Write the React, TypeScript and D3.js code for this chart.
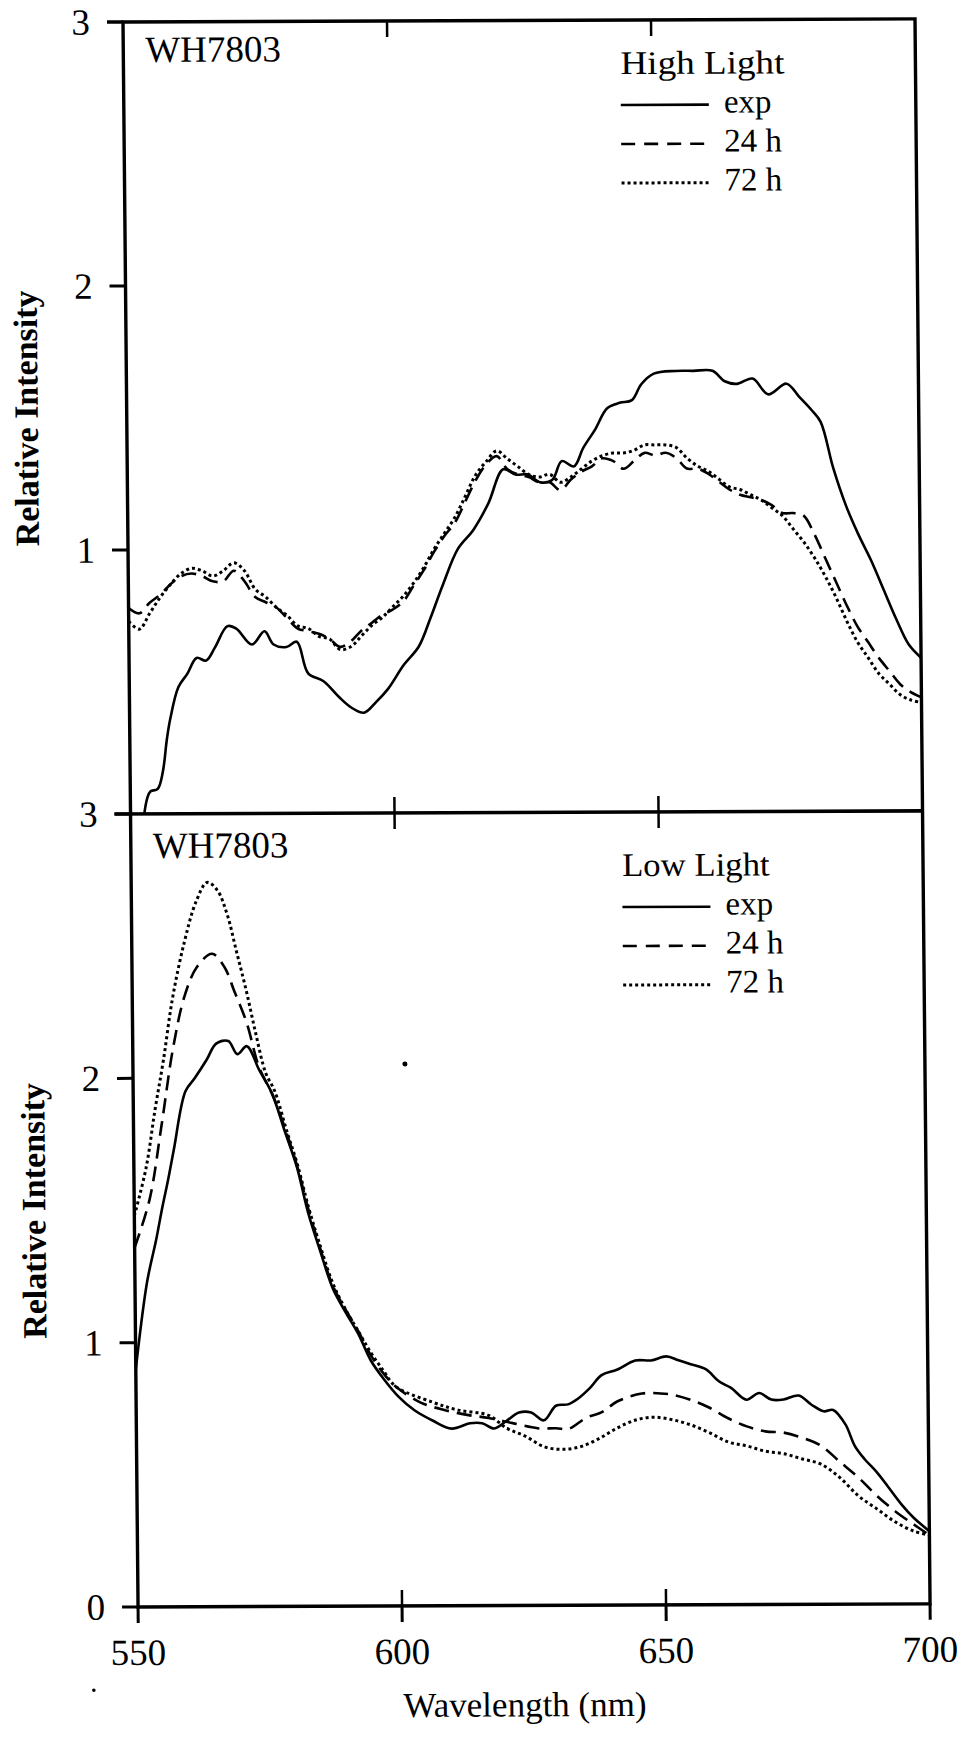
import React from "react";
import * as d3 from "d3";

// ---- Axis ticks ----
const WAVELENGTH_TICKS = [550, 600, 650, 700];
const TOP_Y_TICKS = [1, 2, 3];
const BOTTOM_Y_TICKS = [0, 1, 2, 3];

// ---- High Light panel ----
const highExpNm = [552.6, 553.2, 553.8, 555.2, 556.2, 557.0, 557.7, 559.3, 561, 562.8, 564.6, 566.3, 568.7, 570.4, 573.3, 575.7, 577.4, 579.8, 581.8, 583.9, 586.8, 589.7, 592, 594.4, 596.7, 599, 602, 604.9, 607.2, 609.5, 612.5, 615.4, 618.3, 621.2, 623.5, 625.9, 628.2, 630.5, 632.3, 634.6, 636.4, 638.7, 641, 643.4, 645.7, 647.5, 649.9, 654, 657.4, 661, 663.3, 665.6, 668.6, 671.5, 675, 677.4, 679.7, 681.4, 683.7, 686, 688.3, 690.7, 693, 695.3, 697.7, 700];
const highExpVal = [0, 0.06, 0.085, 0.095, 0.16, 0.28, 0.36, 0.48, 0.53, 0.59, 0.58, 0.63, 0.71, 0.70, 0.64, 0.69, 0.64, 0.63, 0.65, 0.53, 0.50, 0.44, 0.40, 0.38, 0.42, 0.47, 0.56, 0.63, 0.74, 0.86, 1.00, 1.07, 1.17, 1.30, 1.28, 1.28, 1.25, 1.26, 1.33, 1.31, 1.38, 1.45, 1.53, 1.55, 1.56, 1.62, 1.66, 1.67, 1.67, 1.67, 1.63, 1.62, 1.64, 1.58, 1.62, 1.57, 1.52, 1.475, 1.30, 1.16, 1.05, 0.95, 0.84, 0.73, 0.63, 0.58];

// 24 h and 72 h share a 2 nm grid from 550 to 700
const highGridNm = d3.range(550, 701, 2);
const high24Val = [0.78, 0.76, 0.80, 0.83, 0.87, 0.90, 0.91, 0.90, 0.88, 0.88, 0.92, 0.88, 0.82, 0.80, 0.78, 0.74, 0.70, 0.69, 0.68, 0.66, 0.63, 0.65, 0.69, 0.72, 0.75, 0.77, 0.80, 0.86, 0.92, 0.99, 1.05, 1.10, 1.18, 1.26, 1.32, 1.35, 1.30, 1.28, 1.27, 1.25, 1.25, 1.22, 1.26, 1.29, 1.31, 1.34, 1.33, 1.30, 1.33, 1.36, 1.35, 1.36, 1.34, 1.30, 1.30, 1.28, 1.25, 1.22, 1.20, 1.19, 1.18, 1.16, 1.13, 1.13, 1.12, 1.05, 0.96, 0.87, 0.78, 0.70, 0.64, 0.58, 0.53, 0.48, 0.45, 0.43];
const high72Val = [0.73, 0.70, 0.76, 0.82, 0.87, 0.91, 0.93, 0.92, 0.90, 0.92, 0.95, 0.92, 0.85, 0.82, 0.78, 0.75, 0.71, 0.70, 0.67, 0.66, 0.62, 0.63, 0.67, 0.71, 0.74, 0.78, 0.82, 0.87, 0.93, 1.00, 1.06, 1.12, 1.20, 1.28, 1.33, 1.37, 1.34, 1.31, 1.28, 1.27, 1.28, 1.25, 1.27, 1.30, 1.33, 1.35, 1.36, 1.36, 1.37, 1.39, 1.39, 1.39, 1.38, 1.34, 1.31, 1.29, 1.26, 1.23, 1.22, 1.20, 1.18, 1.15, 1.12, 1.07, 1.02, 0.96, 0.89, 0.81, 0.72, 0.64, 0.58, 0.52, 0.48, 0.44, 0.42, 0.41];

// ---- Low Light panel ----
const lowExpNm = [550, 552.3, 554.1, 555.3, 556.4, 557.6, 559.9, 561.7, 564, 565.8, 568.1, 569.8, 571.6, 573.9, 576.3, 578.6, 580.9, 582.9, 585.2, 587.5, 589.9, 592.2, 594.5, 596.9, 599.8, 602.7, 606.2, 609.7, 613.2, 615.5, 617.8, 620.2, 622.5, 624.8, 627.2, 629.5, 631.8, 633.6, 635.9, 638.2, 641.1, 644.6, 647.6, 650.5, 652.8, 655.1, 658, 660.4, 662.7, 665.6, 668, 670.3, 672.6, 675.5, 677.9, 680.2, 682, 684.3, 686, 687.8, 690.1, 692.4, 694.8, 697.1, 700];
const lowExpVal = [0.90, 1.23, 1.39, 1.51, 1.61, 1.73, 1.95, 2.00, 2.07, 2.13, 2.14, 2.09, 2.12, 2.03, 1.94, 1.80, 1.66, 1.49, 1.34, 1.20, 1.11, 1.03, 0.93, 0.86, 0.79, 0.74, 0.70, 0.67, 0.69, 0.69, 0.67, 0.70, 0.73, 0.73, 0.70, 0.755, 0.76, 0.78, 0.82, 0.87, 0.89, 0.925, 0.925, 0.94, 0.925, 0.91, 0.89, 0.845, 0.82, 0.775, 0.80, 0.775, 0.775, 0.79, 0.755, 0.73, 0.735, 0.68, 0.60, 0.55, 0.50, 0.44, 0.376, 0.325, 0.275];

const low24Nm = [550, 552.9, 555.3, 557.6, 559.9, 562.3, 565.2, 567.5, 569.3, 571.6, 573.9, 576.5, 579, 581, 583, 585.2, 587.5, 589.9, 592.2, 594.5, 596.9, 599.2, 603.8, 608.5, 613.2, 616.7, 621.3, 626, 629.5, 631.8, 635.3, 638.2, 641.1, 645.8, 649.3, 651.6, 655.1, 658.6, 662.1, 665.6, 669.1, 672.6, 676.1, 679.6, 683.1, 686.6, 690.1, 693.6, 697.1, 700];
const low24Val = [1.36, 1.54, 1.82, 2.11, 2.31, 2.42, 2.47, 2.42, 2.33, 2.21, 2.04, 1.93, 1.79, 1.66, 1.50, 1.35, 1.21, 1.12, 1.04, 0.95, 0.88, 0.83, 0.77, 0.74, 0.72, 0.71, 0.69, 0.67, 0.67, 0.667, 0.71, 0.73, 0.77, 0.80, 0.80, 0.795, 0.775, 0.745, 0.705, 0.674, 0.655, 0.65, 0.63, 0.60, 0.54, 0.48, 0.41, 0.35, 0.30, 0.26];

const low72Nm = [550, 552.3, 554.1, 555.8, 557.6, 559.9, 562.3, 564.4, 566.3, 568.1, 569.8, 571.6, 573.3, 575.1, 576.8, 579, 581, 583, 585.2, 587.5, 589.9, 592.2, 594.5, 596.9, 599.2, 606.2, 611, 616.7, 620.2, 623.7, 627.2, 630.7, 634.1, 637.6, 641.1, 644.6, 648.1, 651.6, 655.1, 658.6, 662.1, 665.6, 669.1, 672.6, 676.1, 679.6, 683.1, 686.6, 690.1, 693.6, 697.1, 700];
const low72Val = [1.48, 1.66, 1.88, 2.07, 2.30, 2.51, 2.67, 2.74, 2.71, 2.62, 2.48, 2.33, 2.17, 2.02, 1.95, 1.80, 1.67, 1.51, 1.36, 1.22, 1.12, 1.04, 0.96, 0.89, 0.83, 0.77, 0.74, 0.72, 0.67, 0.64, 0.60, 0.59, 0.60, 0.63, 0.67, 0.70, 0.71, 0.70, 0.68, 0.65, 0.615, 0.60, 0.58, 0.57, 0.55, 0.53, 0.48, 0.41, 0.36, 0.31, 0.275, 0.26];

const SERIES_LABELS = ["exp", "24 h", "72 h"];

// ---- Layout ----
const W = 964;
const H = 1746;
const X0 = 123;
const X1 = 915;
const TOP_Y = 22;
const MID_Y = 814;
const BOT_Y = 1607;
const FONT = "'Liberation Serif', 'Times New Roman', Times, serif";
const LEGEND_FONT = 33;
// the printed figure sits slightly askew on the page
const SKEW_X = 0.0095;
const SKEW_Y = -0.004;

const STYLES = [
  { dash: undefined, width: 2.6 },
  { dash: "15 8", width: 2.6 },
  { dash: "3 3", width: 3 },
];

const x = d3.scaleLinear().domain([550, 700]).range([X0, X1]);
const yTop = d3.scaleLinear().domain([0, 3]).range([MID_Y, TOP_Y]);
const yBot = d3.scaleLinear().domain([0, 3]).range([BOT_Y, MID_Y]);

const zip = (a: number[], b: number[]) => a.map((v, i) => [v, b[i]] as [number, number]);

function makeLine(y: d3.ScaleLinear<number, number>) {
  return d3
    .line<[number, number]>()
    .x((d) => x(d[0]))
    .y((d) => y(d[1]))
    .curve(d3.curveCatmullRom.alpha(0.5));
}

type LegendLayout = {
  left: number;
  lineEnd: number;
  textX: number;
  titleY: number;
  rows: number[];
};

type PanelProps = {
  id: string;
  y: d3.ScaleLinear<number, number>;
  series: [number, number][][];
  yTicks: number[];
  title: string;
  tagOffset: number;
  legend: LegendLayout;
};

function Panel({ id, y, series, yTicks, title, tagOffset, legend }: PanelProps) {
  const line = makeLine(y);
  const yMax = y(3);
  const yMin = y(0);
  return (
    <g>
      <defs>
        <clipPath id={id}>
          <rect x={X0} y={yMax} width={X1 - X0} height={yMin - yMax} />
        </clipPath>
      </defs>
      <g clipPath={`url(#${id})`}>
        {series.map((pts, i) => (
          <path
            key={i}
            d={line(pts) ?? ""}
            fill="none"
            stroke="#000"
            strokeWidth={STYLES[i].width}
            strokeDasharray={STYLES[i].dash}
            strokeLinejoin="round"
          />
        ))}
      </g>
      {/* y ticks and labels */}
      {yTicks.map((t) => (
        <g key={t}>
          <line x1={X0 - 16} x2={X0} y1={y(t)} y2={y(t)} stroke="#000" strokeWidth={3} />
          <text x={X0 - 33} y={y(t)} dy="0.34em" textAnchor="end" fontFamily={FONT} fontSize={37}>
            {t}
          </text>
        </g>
      ))}
      {/* inner wavelength ticks along the top and bottom edges */}
      {WAVELENGTH_TICKS.slice(1, 3).map((t) => (
        <g key={t}>
          <line x1={x(t)} x2={x(t)} y1={yMax} y2={yMax + 16} stroke="#000" strokeWidth={2.5} />
          <line x1={x(t)} x2={x(t)} y1={yMin} y2={yMin - 16} stroke="#000" strokeWidth={2.5} />
        </g>
      ))}
      <text x={X0 + 22} y={yMax + tagOffset} fontFamily={FONT} fontSize={37}>
        WH7803
      </text>
      {/* legend */}
      <text x={legend.left} y={legend.titleY} fontFamily={FONT} fontSize={LEGEND_FONT} textLength={title.length * 16.4} lengthAdjust="spacingAndGlyphs">
        {title}
      </text>
      {legend.rows.map((ry, i) => (
        <g key={i}>
          <line
            x1={legend.left}
            x2={legend.lineEnd}
            y1={ry - 8}
            y2={ry - 8}
            stroke="#000"
            strokeWidth={STYLES[i].width}
            strokeDasharray={i === 1 ? "14 9" : STYLES[i].dash}
          />
          <text x={legend.textX} y={ry} fontFamily={FONT} fontSize={LEGEND_FONT}>
            {SERIES_LABELS[i]}
          </text>
        </g>
      ))}
      <text
        transform={`translate(34, ${(yMax + yMin) / 2}) rotate(-90)`}
        textAnchor="middle"
        fontFamily={FONT}
        fontWeight="bold"
        fontSize={34}
      >
        Relative Intensity
      </text>
    </g>
  );
}

export default function App() {
  const topSeries = [
    zip(highExpNm, highExpVal),
    zip(highGridNm, high24Val),
    zip(highGridNm, high72Val),
  ];
  const bottomSeries = [
    zip(lowExpNm, lowExpVal),
    zip(low24Nm, low24Val),
    zip(low72Nm, low72Val),
  ];
  const matrix = `matrix(1, ${SKEW_Y}, ${SKEW_X}, 1, ${-SKEW_X * TOP_Y}, ${-SKEW_Y * X0})`;

  return (
    <svg
      width={W}
      height={H}
      viewBox={`0 0 ${W} ${H}`}
      style={{ position: "absolute", left: 0, top: 0, background: "#fff" }}
    >
      <rect x={0} y={0} width={W} height={H} fill="#fff" />
      <g transform={matrix}>
        <Panel
          id="clip-top"
          y={yTop}
          series={topSeries}
          yTicks={TOP_Y_TICKS}
          title="High Light"
          tagOffset={40}
          legend={{ left: 620, lineEnd: 708, textX: 723, titleY: 76, rows: [115, 154, 193] }}
        />
        <Panel
          id="clip-bottom"
          y={yBot}
          series={bottomSeries}
          yTicks={BOTTOM_Y_TICKS}
          title="Low Light"
          tagOffset={44}
          legend={{ left: 614, lineEnd: 702, textX: 717, titleY: 878, rows: [917, 956, 995] }}
        />
        {/* frames */}
        <rect x={X0} y={TOP_Y} width={X1 - X0} height={BOT_Y - TOP_Y} fill="none" stroke="#000" strokeWidth={3.4} />
        <line x1={X0 - 16} x2={X1} y1={MID_Y} y2={MID_Y} stroke="#000" strokeWidth={3.6} />
        <line x1={X0 - 16} x2={X0} y1={TOP_Y} y2={TOP_Y} stroke="#000" strokeWidth={3} />
        {/* outer wavelength ticks and labels */}
        {WAVELENGTH_TICKS.map((t) => (
          <g key={t}>
            <line x1={x(t)} x2={x(t)} y1={BOT_Y} y2={BOT_Y + 16} stroke="#000" strokeWidth={3} />
            <text x={x(t)} y={BOT_Y + 58} textAnchor="middle" fontFamily={FONT} fontSize={37}>
              {t}
            </text>
          </g>
        ))}
        <text x={509} y={1718} textAnchor="middle" fontFamily={FONT} fontSize={35}>
          Wavelength (nm)
        </text>
        {/* stray specks of ink */}
        <circle cx={x(600) + 8} cy={yBot(2.05)} r={2.5} fill="#000" />
        <circle cx={78} cy={1690} r={1.8} fill="#000" />
      </g>
    </svg>
  );
}
